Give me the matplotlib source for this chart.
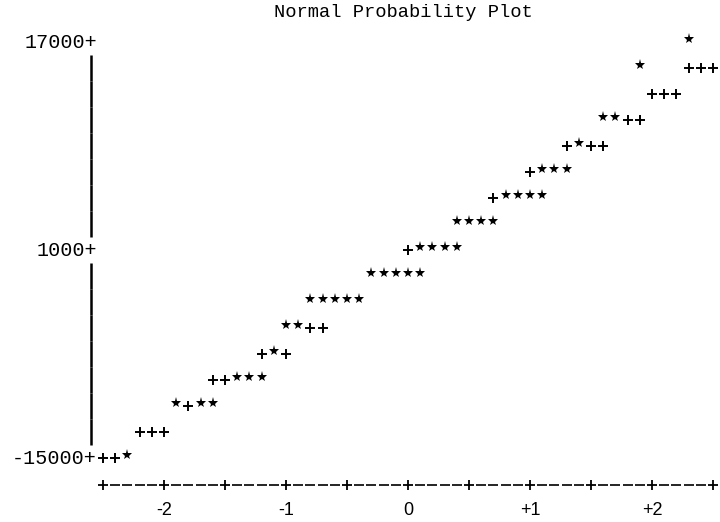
import matplotlib
matplotlib.use("Agg")
import matplotlib.pyplot as plt
import matplotlib.transforms as mtransforms

# normal quantile (x) and value (y) of the printed symbols
star_q = [2.3, 1.9, 1.6, 1.7, 1.4, 1.1, 1.2, 1.3, 0.8, 0.9, 1.0, 1.1,
          0.4, 0.5, 0.6, 0.7, 0.1, 0.2, 0.3, 0.4,
          -0.3, -0.2, -0.1, 0.0, 0.1, -0.8, -0.7, -0.6, -0.5, -0.4,
          -1.0, -0.9, -1.1, -1.4, -1.3, -1.2, -1.9, -1.7, -1.6, -2.3]
star_val = [17000, 15000, 11000, 11000, 9000, 7000, 7000, 7000,
            5000, 5000, 5000, 5000, 3000, 3000, 3000, 3000,
            1000, 1000, 1000, 1000, -1000, -1000, -1000, -1000, -1000,
            -3000, -3000, -3000, -3000, -3000, -5000, -5000, -7000,
            -9000, -9000, -9000, -11000, -11000, -11000, -15000]

# reference line symbols
plus_q = [2.3, 2.4, 2.5, 2.0, 2.1, 2.2, 1.8, 1.9, 1.3, 1.5, 1.6, 1.0, 0.7,
          0.0, -0.8, -0.7, -1.2, -1.0, -1.6, -1.5, -1.8,
          -2.2, -2.1, -2.0, -2.5, -2.4]
plus_val = [15000, 15000, 15000, 13000, 13000, 13000, 11000, 11000,
            9000, 9000, 9000, 7000, 5000, 1000, -5000, -5000,
            -7000, -7000, -9000, -9000, -11000,
            -13000, -13000, -13000, -15000, -15000]

y_ticks = [17000, 1000, -15000]
y_ticklabels = ["17000+", "1000+", "-15000+"]
x_ticks = [-2, -1, 0, 1, 2]
x_ticklabels = ["-2", "-1", "0", "+1", "+2"]
x_axis_marks = [-2.5, -2.0, -1.5, -1.0, -0.5, 0.0, 0.5, 1.0, 1.5, 2.0, 2.5]
y_rows = [15000, 13000, 11000, 9000, 7000, 5000, 3000,
          -1000, -3000, -5000, -7000, -9000, -11000, -13000]

mono = "Liberation Mono"

fig = plt.figure(figsize=(7.2, 5.22), dpi=100)
ax = fig.add_axes([0, 0, 1, 1])
ax.set_xlim(-3.344, 2.557)
ax.set_ylim(-19923, 20231)
ax.axis("off")

# title
fig.text(0.56, 0.977, "Normal Probability Plot", family=mono,
         fontsize=13.5, ha="center", va="center")

# vertical axis, one "|" per printed line
axis_q = -2.6
ax.vlines([axis_q] * len(y_rows), [v - 1030 for v in y_rows],
          [v + 1030 for v in y_rows], color="black", lw=1.8)
for v, lab in zip(y_ticks, y_ticklabels):
    ax.text(axis_q + 0.05, v, lab, family=mono, fontsize=14.5,
            ha="right", va="center")

# horizontal axis: +----+----+ ...
x_axis_y = -17080
dash_q = [m + d for m in x_axis_marks[:-1] for d in (0.1, 0.2, 0.3, 0.4)]
ax.plot(dash_q, [x_axis_y] * len(dash_q), ls="none", marker="_",
        ms=6.5, mew=1.2, color="black")
ax.plot(x_axis_marks, [x_axis_y] * len(x_axis_marks), ls="none",
        marker="+", ms=7, mew=1.3, color="black")
for q, lab in zip(x_ticks, x_ticklabels):
    ax.text(q, -19000, lab, family="Liberation Sans", fontsize=13,
            ha="center", va="center")

# data symbols; stars print a little high on the line
star_tr = mtransforms.offset_copy(ax.transData, fig=fig, y=2.5, units="points")
ax.plot(plus_q, plus_val, ls="none", marker="+", ms=7.5, mew=1.4,
        color="black")
ax.plot(star_q, star_val, ls="none", marker="*", ms=8, mew=0,
        color="black", transform=star_tr)

fig.savefig("out.png", dpi=100)
